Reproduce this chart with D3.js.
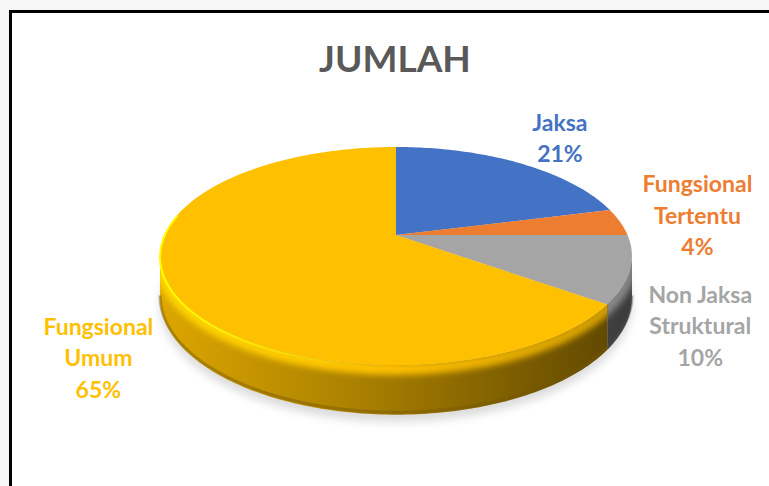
<!DOCTYPE html>
<html>
<head>
<meta charset="utf-8">
<script src="https://cdn.jsdelivr.net/npm/d3@7"></script>
<style>
  html, body { margin: 0; padding: 0; background: #f6f6f6; }
  svg { display: block; font-family: Lato, "Open Sans", sans-serif; }
</style>
</head>
<body>
<svg id="chart" width="769" height="486"></svg>
<script>
// data
var categories = ["Jaksa", "Fungsional Tertentu", "Non Jaksa Struktural", "Fungsional Umum"];
var labelLines = [["Jaksa"], ["Fungsional", "Tertentu"], ["Non Jaksa", "Struktural"], ["Fungsional", "Umum"]];
var values = [21, 4, 10, 65];
var palette = ["#4472C4", "#ED7D31", "#A5A5A5", "#FFC000"];
var title = "JUMLAH";

// layout (3d pie seen in perspective)
var cx = 396, cy = 235,     // where the pie centre lands on screen
    rx = 231.5, ry = 105,   // radii of the top disk
    persp = 0.193,          // perspective strength
    depth = 40,             // thickness of the disk
    labelR = 1.3,
    lineH = 31.5;
var labelNudge = [[10, -14], [12, -26], [-6, 22], [5, 30]];

var svg = d3.select("#chart");
var defs = svg.append("defs");

// chart area with its border
svg.append("rect")
    .attr("x", 10.5).attr("y", 11.5)
    .attr("width", 800).attr("height", 500)
    .attr("fill", "#fff")
    .attr("stroke", "#000")
    .attr("stroke-width", 3);

svg.append("text")
    .attr("x", 395).attr("y", 72)
    .attr("text-anchor", "middle")
    .attr("font-size", 37)
    .attr("font-weight", 700)
    .attr("fill", "#595959")
    .text(title);

// project a point of the disk: angle clockwise from 12 o'clock, r in radius units, dz = drop
function proj(theta, r, dz) {
  var u = r * Math.sin(theta), v = -r * Math.cos(theta);
  var w = 1 - persp * v;
  return [cx + rx * u / w, cy + (ry * v + (dz || 0)) / w];
}

function arcPoints(a0, a1, dz) {
  var n = Math.max(2, Math.ceil(Math.abs(a1 - a0) / (Math.PI / 180)));
  var pts = [];
  for (var i = 0; i <= n; i++) pts.push(proj(a0 + (a1 - a0) * i / n, 1, dz));
  return pts;
}

var line = d3.line();

var pie = d3.pie().sort(null).value(function(d) { return d; });
var arcs = pie(values);

// side is visible where the rim faces the viewer
var visA = Math.acos(-persp), visB = 2 * Math.PI - visA;

defs.append("filter").attr("id", "blur6")
    .attr("x", "-20%").attr("y", "-20%").attr("width", "140%").attr("height", "140%")
  .append("feGaussianBlur").attr("stdDeviation", 5);
defs.append("filter").attr("id", "blur3")
    .attr("x", "-10%").attr("y", "-30%").attr("width", "120%").attr("height", "160%")
  .append("feGaussianBlur").attr("stdDeviation", 3);

// soft shadow under the pie
var bottomRing = arcPoints(0, 2 * Math.PI, depth);
svg.append("path")
    .attr("d", line(bottomRing) + "Z")
    .attr("transform", "translate(0,7)")
    .attr("fill", "#000")
    .attr("opacity", 0.14)
    .attr("filter", "url(#blur6)");

// side gradients, light on the left, dark on the right
var xLeft = cx - rx * 1.02, xRight = cx + rx * 1.02;
palette.forEach(function(c, i) {
  var g = defs.append("linearGradient").attr("id", "side" + i)
      .attr("gradientUnits", "userSpaceOnUse")
      .attr("x1", xLeft).attr("x2", xRight).attr("y1", 0).attr("y2", 0);
  g.append("stop").attr("offset", 0).attr("stop-color", d3.color(c).darker(0.4));
  g.append("stop").attr("offset", 0.45).attr("stop-color", d3.color(c).darker(1.2));
  g.append("stop").attr("offset", 1).attr("stop-color", d3.color(c).darker(2.9));
  var r = defs.append("linearGradient").attr("id", "bevel" + i)
      .attr("gradientUnits", "userSpaceOnUse")
      .attr("x1", xLeft).attr("x2", xRight).attr("y1", 0).attr("y2", 0);
  r.append("stop").attr("offset", 0).attr("stop-color", d3.color(c).brighter(0.3));
  r.append("stop").attr("offset", 0.5).attr("stop-color", d3.color(c));
  r.append("stop").attr("offset", 1).attr("stop-color", d3.color(c).darker(0.6));
  var e = defs.append("linearGradient").attr("id", "edge" + i)
      .attr("gradientUnits", "userSpaceOnUse")
      .attr("x1", xLeft).attr("x2", xRight).attr("y1", 0).attr("y2", 0);
  e.append("stop").attr("offset", 0).attr("stop-color", d3.color(c).brighter(0.8)).attr("stop-opacity", 1);
  e.append("stop").attr("offset", 0.45).attr("stop-color", d3.color(c).brighter(0.8)).attr("stop-opacity", 0);
});

// sides
arcs.forEach(function(d, i) {
  var a0 = Math.max(d.startAngle, visA), a1 = Math.min(d.endAngle, visB);
  if (a1 <= a0) return;
  var pts = arcPoints(a0, a1, 0).concat(arcPoints(a1, a0, depth));
  var sidePath = line(pts) + "Z";
  defs.append("clipPath").attr("id", "sclip" + i)
    .append("path").attr("d", sidePath);
  svg.append("path")
      .attr("class", "side")
      .attr("d", sidePath)
      .attr("fill", "url(#side" + i + ")");
  // rounded bevel where the side meets the top
  svg.append("g").attr("clip-path", "url(#sclip" + i + ")")
    .append("path")
      .attr("d", line(arcPoints(a0 - 0.1, a1 + 0.1, 3)))
      .attr("fill", "none")
      .attr("stroke", "url(#bevel" + i + ")")
      .attr("stroke-width", 12)
      .attr("filter", "url(#blur3)");
  // darker lip along the bottom edge
  svg.append("path")
      .attr("d", line(arcPoints(a0, a1, depth - 2)))
      .attr("fill", "none")
      .attr("stroke", d3.color(palette[i]).darker(2.2))
      .attr("stroke-width", 3)
      .attr("opacity", 0.45);
});

// tops
arcs.forEach(function(d, i) {
  var pts = [[cx, cy]].concat(arcPoints(d.startAngle, d.endAngle, 0));
  svg.append("path")
      .attr("class", "top")
      .attr("d", line(pts) + "Z")
      .attr("fill", palette[i]);
  // light edge on the lit (left) part of the rim
  var a0 = Math.max(d.startAngle, visA), a1 = Math.min(d.endAngle, visB + 0.4);
  if (a1 > a0) {
    svg.append("path")
        .attr("d", line(arcPoints(a0, a1, 1)))
        .attr("fill", "none")
        .attr("stroke", "url(#edge" + i + ")")
        .attr("stroke-width", 2);
  }
});

// labels
var total = d3.sum(values);
arcs.forEach(function(d, i) {
  var mid = (d.startAngle + d.endAngle) / 2;
  var p = proj(mid, labelR, 0);
  var x = p[0] + labelNudge[i][0], y = p[1] + labelNudge[i][1];
  var lines = labelLines[i].concat([Math.round(100 * values[i] / total) + "%"]);
  var t = svg.append("text")
      .attr("text-anchor", "middle")
      .attr("font-size", 23)
      .attr("font-weight", 700)
      .attr("fill", palette[i]);
  lines.forEach(function(s, k) {
    t.append("tspan").attr("x", x).attr("y", y + k * lineH).text(s);
  });
});
</script>
</body>
</html>
